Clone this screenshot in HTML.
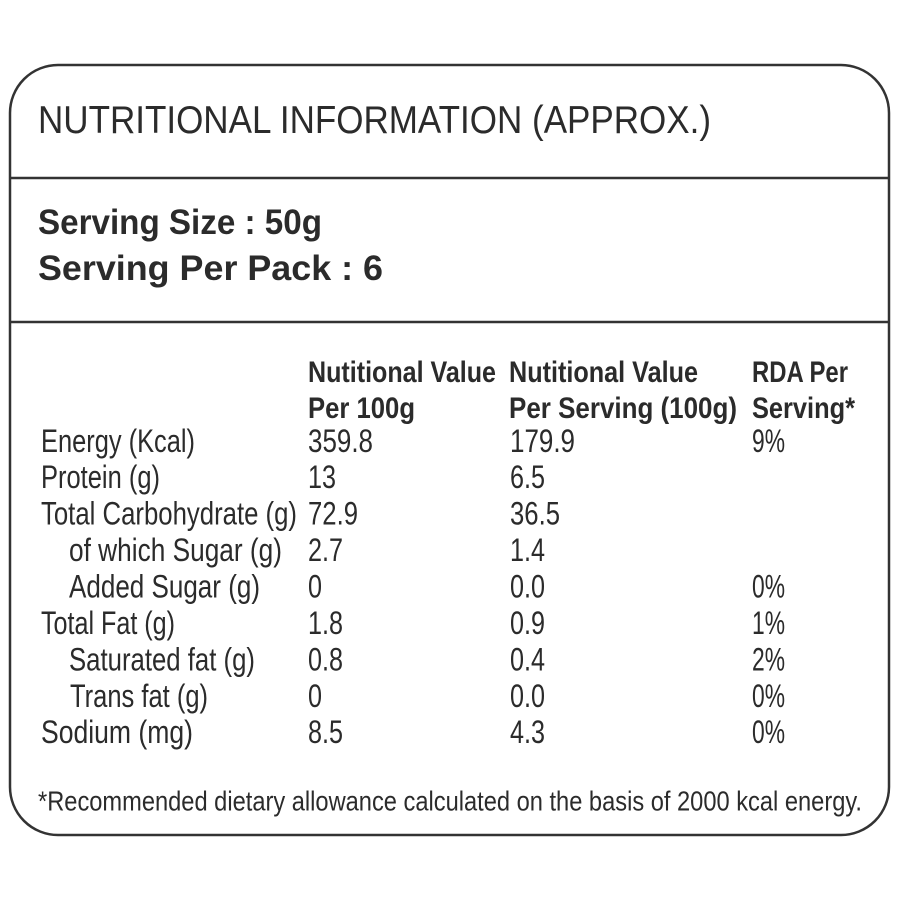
<!DOCTYPE html>
<html>
<head>
<meta charset="utf-8">
<style>
html,body{margin:0;padding:0;background:#fff;}
svg{display:block;}
text{font-family:"Liberation Sans",Arial,sans-serif;fill:#2b2b2b;}
.b{font-weight:bold;}
</style>
</head>
<body>
<svg width="900" height="900" viewBox="0 0 900 900" xmlns="http://www.w3.org/2000/svg">
<rect x="0" y="0" width="900" height="900" fill="#fff"/>
<rect x="10" y="65" width="879" height="770" rx="48" ry="48" fill="none" stroke="#333" stroke-width="2.5"/>
<line x1="10" y1="178" x2="889" y2="178" stroke="#333" stroke-width="2.5"/>
<line x1="10" y1="322" x2="889" y2="322" stroke="#333" stroke-width="2.5"/>

<text x="38" y="133" font-size="39" textLength="673" lengthAdjust="spacingAndGlyphs">NUTRITIONAL INFORMATION (APPROX.)</text>

<text class="b" x="38" y="234" font-size="35" textLength="284" lengthAdjust="spacingAndGlyphs">Serving Size : 50g</text>
<text class="b" x="38" y="280" font-size="35" textLength="345" lengthAdjust="spacingAndGlyphs">Serving Per Pack : 6</text>

<!-- headers -->
<text class="b" x="308" y="382" font-size="30" textLength="188" lengthAdjust="spacingAndGlyphs">Nutitional Value</text>
<text class="b" x="308" y="418" font-size="30" textLength="107" lengthAdjust="spacingAndGlyphs">Per 100g</text>
<text class="b" x="509" y="382" font-size="30" textLength="189" lengthAdjust="spacingAndGlyphs">Nutitional Value</text>
<text class="b" x="509" y="418" font-size="30" textLength="228" lengthAdjust="spacingAndGlyphs">Per Serving (100g)</text>
<text class="b" x="752" y="382" font-size="30" textLength="96" lengthAdjust="spacingAndGlyphs">RDA Per</text>
<text class="b" x="752" y="418" font-size="30" textLength="103" lengthAdjust="spacingAndGlyphs">Serving*</text>

<!-- labels -->
<g font-size="32">
<text x="41" y="452" textLength="154" lengthAdjust="spacingAndGlyphs">Energy (Kcal)</text>
<text x="41" y="488" textLength="119" lengthAdjust="spacingAndGlyphs">Protein (g)</text>
<text x="41" y="524.5" textLength="256" lengthAdjust="spacingAndGlyphs">Total Carbohydrate (g)</text>
<text x="69" y="561" textLength="213" lengthAdjust="spacingAndGlyphs">of which Sugar (g)</text>
<text x="69" y="597.5" textLength="191" lengthAdjust="spacingAndGlyphs">Added Sugar (g)</text>
<text x="41" y="634" textLength="134" lengthAdjust="spacingAndGlyphs">Total Fat (g)</text>
<text x="69" y="670.5" textLength="186" lengthAdjust="spacingAndGlyphs">Saturated fat (g)</text>
<text x="70" y="707" textLength="138" lengthAdjust="spacingAndGlyphs">Trans fat (g)</text>
<text x="41" y="743" textLength="152" lengthAdjust="spacingAndGlyphs">Sodium (mg)</text>

<!-- col 2 -->
<text x="308" y="452" textLength="65" lengthAdjust="spacingAndGlyphs">359.8</text>
<text x="308" y="488" textLength="28" lengthAdjust="spacingAndGlyphs">13</text>
<text x="308" y="524.5" textLength="50" lengthAdjust="spacingAndGlyphs">72.9</text>
<text x="308" y="561" textLength="35" lengthAdjust="spacingAndGlyphs">2.7</text>
<text x="308" y="597.5" textLength="14" lengthAdjust="spacingAndGlyphs">0</text>
<text x="308" y="634" textLength="35" lengthAdjust="spacingAndGlyphs">1.8</text>
<text x="308" y="670.5" textLength="35" lengthAdjust="spacingAndGlyphs">0.8</text>
<text x="308" y="707" textLength="14" lengthAdjust="spacingAndGlyphs">0</text>
<text x="308" y="743" textLength="35" lengthAdjust="spacingAndGlyphs">8.5</text>

<!-- col 3 -->
<text x="510" y="452" textLength="65" lengthAdjust="spacingAndGlyphs">179.9</text>
<text x="510" y="488" textLength="35" lengthAdjust="spacingAndGlyphs">6.5</text>
<text x="510" y="524.5" textLength="50" lengthAdjust="spacingAndGlyphs">36.5</text>
<text x="510" y="561" textLength="35" lengthAdjust="spacingAndGlyphs">1.4</text>
<text x="510" y="597.5" textLength="35" lengthAdjust="spacingAndGlyphs">0.0</text>
<text x="510" y="634" textLength="35" lengthAdjust="spacingAndGlyphs">0.9</text>
<text x="510" y="670.5" textLength="35" lengthAdjust="spacingAndGlyphs">0.4</text>
<text x="510" y="707" textLength="35" lengthAdjust="spacingAndGlyphs">0.0</text>
<text x="510" y="743" textLength="35" lengthAdjust="spacingAndGlyphs">4.3</text>

<!-- col 4 -->
<text x="752" y="452" textLength="33" lengthAdjust="spacingAndGlyphs">9%</text>
<text x="752" y="597.5" textLength="33" lengthAdjust="spacingAndGlyphs">0%</text>
<text x="752" y="634" textLength="33" lengthAdjust="spacingAndGlyphs">1%</text>
<text x="752" y="670.5" textLength="33" lengthAdjust="spacingAndGlyphs">2%</text>
<text x="752" y="707" textLength="33" lengthAdjust="spacingAndGlyphs">0%</text>
<text x="752" y="743" textLength="33" lengthAdjust="spacingAndGlyphs">0%</text>
</g>

<text x="38" y="810.5" font-size="28" textLength="824" lengthAdjust="spacingAndGlyphs">*Recommended dietary allowance calculated on the basis of 2000 kcal energy.</text>
</svg>
</body>
</html>
